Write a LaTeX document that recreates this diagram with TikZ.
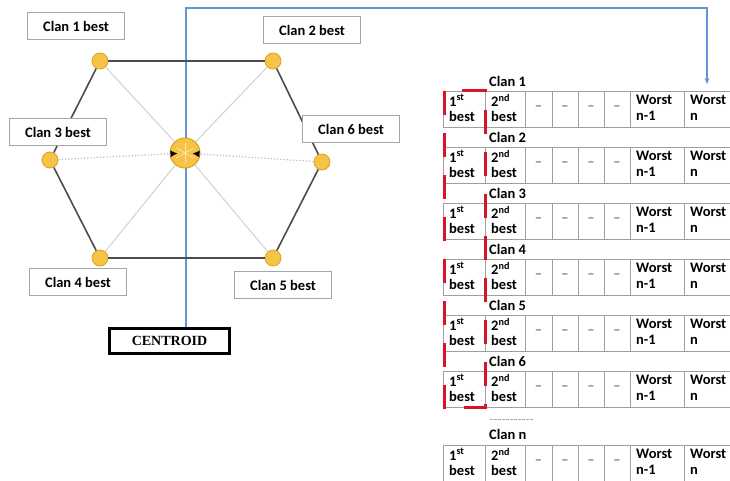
\documentclass[tikz,border=0pt]{standalone}
\usepackage{fontspec}
\setsansfont{Carlito}
\newfontfamily\centroidfont{Liberation Serif}
\usepackage{tikz}
\usetikzlibrary{arrows.meta,positioning,calc}
\definecolor{clangold}{RGB}{245,196,70}
\definecolor{goldedge}{RGB}{225,160,35}
\definecolor{linkblue}{RGB}{100,150,212}
\definecolor{markred}{RGB}{214,22,40}

\begin{document}
\begin{tikzpicture}[
  x=1pt, y=-1pt,
  font=\sffamily\bfseries\fontsize{14.5}{17}\selectfont,
  dot/.style={circle, fill=clangold, draw=goldedge, line width=0.8pt, minimum size=16pt, inner sep=0pt},
  hub/.style={circle, fill=clangold, draw=goldedge, line width=1pt, minimum size=30pt, inner sep=0pt},
  box/.style={draw=gray!70, fill=white, line width=0.8pt, minimum width=97pt, minimum height=27pt, inner sep=0pt},
  rim/.style={draw=black!70, line width=1.6pt},
  spoke/.style={draw=gray!40, line width=0.9pt},
  sidespoke/.style={draw=gray!55, line width=1.2pt, dotted, shorten >=-8pt, -{Latex[color=black, length=7pt, width=7pt]}},
  ray/.style={draw=white!60!clangold, line width=0.7pt},
  link/.style={draw=linkblue, line width=1.2pt, -{Stealth[length=6pt, width=5pt]}},
  grid/.style={draw=gray!75, line width=0.8pt},
  cell/.style={anchor=west, align=left, inner sep=0pt, font=\sffamily\bfseries\fontsize{14.5}{15.5}\selectfont},
  gap/.style={inner sep=0pt, text=gray},
  clan/.style={anchor=west, inner sep=0pt}
]
\useasboundingbox (0,0) rectangle (730,481);
\clip (0,0) rectangle (730,481);

\node[draw=black, line width=3pt, minimum width=120pt, minimum height=25pt, font=\centroidfont\bfseries\fontsize{14}{16}\selectfont] (centroid) at (169.5,341) {CENTROID};
\coordinate (top) at (186,8);
\coordinate (tip) at (707,84);
\draw[link] (centroid.north -| top) -- (top) -| (tip);

\node[dot] (c1) at (100,61) {};
\node[dot] (c2) at (273,61) {};
\node[dot] (c3) at (50,160) {};
\node[dot] (c6) at (322,162) {};
\node[dot] (c4) at (100,258) {};
\node[dot] (c5) at (273,258) {};
\node[hub] (hub) at (185,153) {};
\foreach \a in {30,90,...,330} \draw[ray] (hub.center) -- ++(\a:10pt);

\draw[rim] (c1) -- (c2);
\draw[rim] (c2) -- (c6);
\draw[rim] (c6) -- (c5);
\draw[rim] (c5) -- (c4);
\draw[rim] (c4) -- (c3);
\draw[rim] (c3) -- (c1);
\foreach \n in {c1,c2,c4,c5} \draw[spoke] (\n) -- (hub);
\draw[sidespoke] (c3) -- (hub);
\draw[sidespoke] (c6) -- (hub);

\node[box] (b1) at (76,26) {Clan 1 best};
\node[box] (b2) at (312,30) {Clan 2 best};
\node[box] (b3) at (58,132) {Clan 3 best};
\node[box] (b6) at (351,129) {Clan 6 best};
\node[box] (b4) at (78,282) {Clan 4 best};
\node[box] (b5) at (283,285) {Clan 5 best};

\foreach \r/\ty/\ly in {1/91/81, 2/147/137, 3/203/193, 4/259/249, 5/315/305, 6/371/361, n/445/434} {
  \node[clan] (lab\r) at (489,\ly) {Clan \r};
  \draw[grid] (443,\ty) rectangle (745,\ty+36);
  \foreach \cx in {485,525,552,578,604,630,684} \draw[grid] (\cx,\ty) -- (\cx,\ty+36);
  \node[cell] (first\r) at (449,\ty+17) {1\textsuperscript{st}\\best};
  \node[cell] (second\r) at (491,\ty+17) {2\textsuperscript{nd}\\best};
  \foreach \gx [count=\k] in {538.5,565,591,617} \node[gap] (gap\r\k) at (\gx,\ty+17) {\textendash};
  \node[cell] (worse\r) at (636,\ty+17) {Worst\\n-1};
  \node[cell] (worst\r) at (690,\ty+17) {Worst\\n};
}
\draw[markred, line width=3pt, dash pattern=on 24pt off 18pt] (444,91) rectangle (485,407);
\draw[gray!70, line width=1pt, dash pattern=on 3pt off 1pt] (490,419) -- (533,419);
\end{tikzpicture}
\end{document}
